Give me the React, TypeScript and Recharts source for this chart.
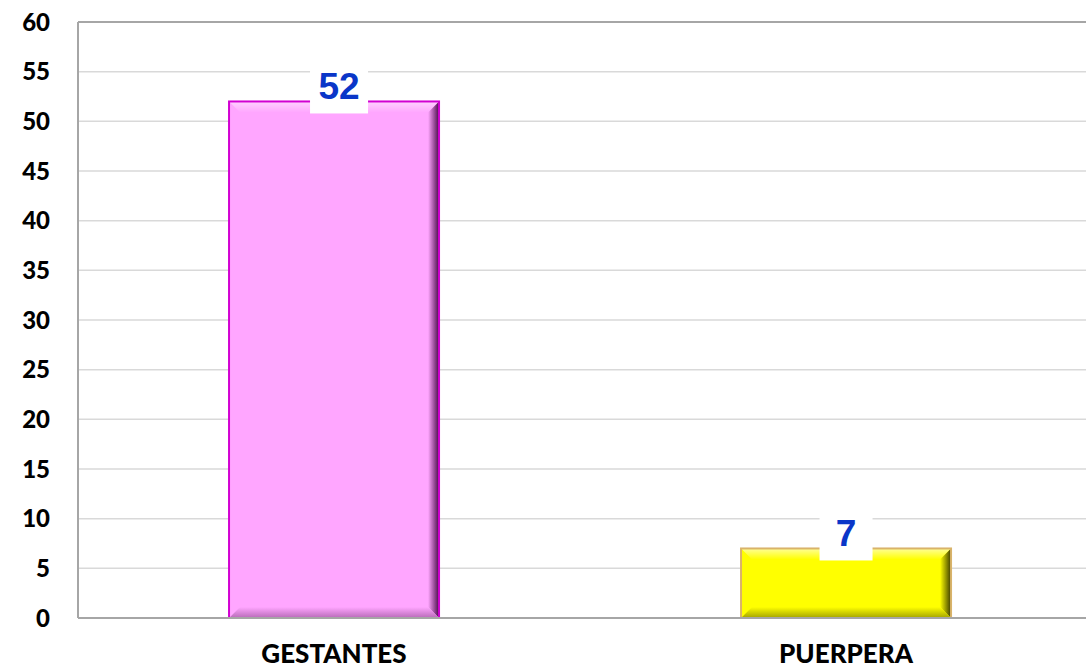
import { Bar, BarChart, CartesianGrid, Cell, LabelList, ReferenceLine, XAxis, YAxis } from "recharts";

const categorias = ["GESTANTES", "PUERPERA"];
const valores = [52, 7];
const ticksY = [0, 5, 10, 15, 20, 25, 30, 35, 40, 45, 50, 55, 60];

const data = categorias.map((nombre, i) => ({ nombre, valor: valores[i] }));

const estilos = [
  { fill: "#FFA6FF", border: "#D200D2", light: "#FFD2FF", dark: "#4A0A4A", shade: "#B86AB8" },
  { fill: "#FFFF00", border: "#D9B36A", light: "#FFFF99", dark: "#3C3C00", shade: "#A3A300" },
];

function BevelBar(props: any) {
  const { x, y, width, height, index } = props;
  const s = estilos[index] ?? estilos[0];
  const b = Math.min(11, height / 2 - 1);
  const gid = `g${index}`;
  return (
    <g>
      <defs>
        <linearGradient id={`${gid}r`} x1="0" y1="0" x2="1" y2="0">
          <stop offset="0" stopColor={s.fill} />
          <stop offset="1" stopColor={s.dark} />
        </linearGradient>
        <linearGradient id={`${gid}b`} x1="0" y1="0" x2="0" y2="1">
          <stop offset="0" stopColor={s.fill} />
          <stop offset="1" stopColor={s.shade} />
        </linearGradient>
        <linearGradient id={`${gid}t`} x1="0" y1="0" x2="0" y2="1">
          <stop offset="0" stopColor={s.light} />
          <stop offset="1" stopColor={s.fill} />
        </linearGradient>
      </defs>
      <rect x={x} y={y} width={width} height={height} fill={s.fill} />
      <polygon
        points={`${x},${y} ${x + width},${y} ${x + width - b},${y + b} ${x + b},${y + b}`}
        fill={`url(#${gid}t)`}
      />
      <polygon
        points={`${x + width},${y} ${x + width},${y + height} ${x + width - b},${y + height - b} ${x + width - b},${y + b}`}
        fill={`url(#${gid}r)`}
      />
      <polygon
        points={`${x},${y + height} ${x + width},${y + height} ${x + width - b},${y + height - b} ${x + b},${y + height - b}`}
        fill={`url(#${gid}b)`}
      />
      <rect x={x} y={y} width={width} height={height} fill="none" stroke={s.border} strokeWidth={2} />
    </g>
  );
}

function Etiqueta(props: any) {
  const { x, y, width, value } = props;
  const largo = String(value).length > 1;
  const cx = x + width / 2 + (largo ? 5 : 0);
  const w = largo ? 58 : 53;
  return (
    <g>
      <rect x={cx - w / 2} y={y - 31} width={w} height={43} fill="#FFFFFF" />
      <text
        x={cx}
        y={y - 12}
        textAnchor="middle"
        dominantBaseline="middle"
        fill="#0A36C8"
        fontFamily="Liberation Sans, Arial, sans-serif"
        fontWeight="bold"
        fontSize={37}
      >
        {value}
      </text>
    </g>
  );
}

export default function App() {
  return (
    <div style={{ position: "absolute", left: 0, top: 0, width: 1086, height: 671, overflow: "hidden", background: "#fff" }}>
      <BarChart
        width={1102}
        height={671}
        data={data}
        margin={{ top: 22, right: 0, bottom: 0, left: 0 }}
        barCategoryGap="29.5%"
      >
        <CartesianGrid vertical={false} stroke="#D9D9D9" strokeWidth={1.5} />
        <ReferenceLine y={60} stroke="#A6A6A6" strokeWidth={2} />
        <XAxis
          dataKey="nombre"
          height={53}
          tickLine={false}
          tickSize={0}
          tickMargin={27}
          axisLine={{ stroke: "#A6A6A6", strokeWidth: 2 }}
          tick={{ fill: "#000", fontSize: 26, fontWeight: 900, fontFamily: "Lato, sans-serif" }}
          interval={0}
        />
        <YAxis
          width={78}
          domain={[0, 60]}
          ticks={ticksY}
          tickLine={false}
          tickSize={0}
          tickMargin={28}
          axisLine={{ stroke: "#A6A6A6", strokeWidth: 2 }}
          tick={{ fill: "#000", fontSize: 24, fontWeight: 900, fontFamily: "Lato, sans-serif" }}
          interval={0}
        />
        <Bar dataKey="valor" shape={<BevelBar />} isAnimationActive={false}>
          {data.map((d, i) => (
            <Cell key={d.nombre} fill={estilos[i].fill} />
          ))}
          <LabelList dataKey="valor" content={<Etiqueta />} />
        </Bar>
      </BarChart>
    </div>
  );
}
